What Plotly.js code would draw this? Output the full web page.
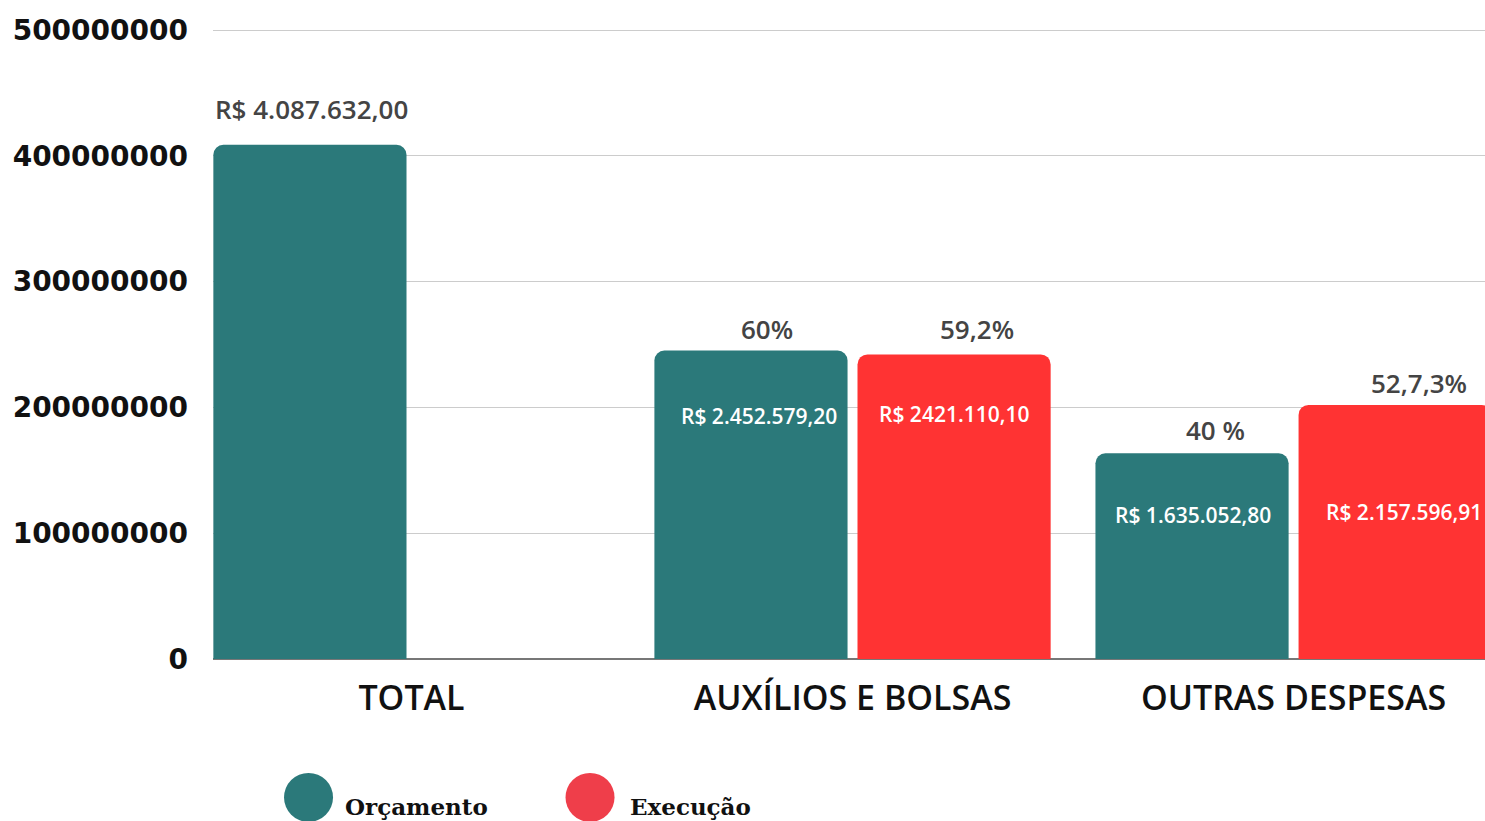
<!DOCTYPE html>
<html>
<head>
<meta charset="utf-8">
<script src="https://cdn.plot.ly/plotly-3.0.1.min.js"></script>
<style>
html,body{margin:0;padding:0;background:#fff;}
#chart{width:1485px;height:821px;}
</style>
</head>
<body>
<div id="chart"></div>
<script>
// ---- data ----
const categories = ["TOTAL", "AUXÍLIOS E BOLSAS", "OUTRAS DESPESAS"];
const orcamento = [408763200, 245257920, 163505280];
const execucao = [null, 242111010, 202000000];
const orcamentoTop = ["R$ 4.087.632,00", "60%", "40 %"];
const execucaoTop = [null, "59,2%", "52,7,3%"];
const orcamentoInside = [null, "R$ 2.452.579,20", "R$ 1.635.052,80"];
const execucaoInside = [null, "R$ 2421.110,10", "R$ 2.157.596,91"];
const yTicks = [0, 100000000, 200000000, 300000000, 400000000, 500000000];
const seriesNames = ["Orçamento", "Execução"];

// ---- style ----
const teal = "#2b797a";
const red = "#ff3333";
const legendRed = "#ef3e4a";
const bargap = 0.079;
const slot = (1 - bargap) / 2;

const traces = [
  {type: "bar", name: seriesNames[0], x: categories, y: orcamento,
   marker: {color: teal, cornerradius: 10}, hoverinfo: "y"},
  {type: "bar", name: seriesNames[1], x: categories, y: execucao,
   marker: {color: red, cornerradius: 10}, hoverinfo: "y"}
];

const annotations = [];
const topFont = {family: "Open Sans", size: 26, color: "#444444", weight: 600};
const inFont = {family: "Open Sans", size: 21, color: "#ffffff", weight: 600};
const topShift = [[36, 21, 23], [0, 25, 22]];
const topX = [[2, 16, 23], [0, 23, 24]];
const inShift = [[0, -66, -62], [0, -60, -107]];
const inX = [[0, 8, 1], [0, 0, 9]];
[[orcamento, orcamentoTop, orcamentoInside, -1], [execucao, execucaoTop, execucaoInside, 1]].forEach((s, si) => {
  const [vals, tops, ins, sign] = s;
  vals.forEach((v, i) => {
    if (v === null) return;
    const xc = i + sign * slot / 2;
    if (tops[i]) annotations.push({x: xc, y: v, xref: "x", yref: "y", text: tops[i], showarrow: false,
      font: topFont, yshift: topShift[si][i], xshift: topX[si][i]});
    if (ins[i]) annotations.push({x: xc, y: v, xref: "x", yref: "y", text: ins[i], showarrow: false,
      font: inFont, yshift: inShift[si][i], xshift: inX[si][i]});
  });
});

// legend (custom)
const legFont = {family: "DejaVu Serif", size: 23, color: "#111111", weight: 700};
annotations.push({xref: "paper", yref: "paper", x: 0.1022, y: -0.234, xanchor: "left", yanchor: "middle",
  text: seriesNames[0], showarrow: false, font: legFont});
annotations.push({xref: "paper", yref: "paper", x: 0.3263, y: -0.234, xanchor: "left", yanchor: "middle",
  text: seriesNames[1], showarrow: false, font: legFont});
const shapes = [
  {type: "circle", xref: "paper", yref: "paper", xsizemode: "pixel", ysizemode: "pixel",
   xanchor: 0.0751, yanchor: -0.2194, x0: -24.5, x1: 24.5, y0: -24.5, y1: 24.5,
   fillcolor: teal, line: {width: 0}},
  {type: "circle", xref: "paper", yref: "paper", xsizemode: "pixel", ysizemode: "pixel",
   xanchor: 0.2964, yanchor: -0.2194, x0: -24.5, x1: 24.5, y0: -24.5, y1: 24.5,
   fillcolor: legendRed, line: {width: 0}}
];

const layout = {
  width: 1485, height: 821,
  margin: {l: 213, r: 0, t: 28, b: 162},
  paper_bgcolor: "#ffffff", plot_bgcolor: "#ffffff",
  barmode: "group", bargap: bargap, bargroupgap: 0.049,
  showlegend: false,
  xaxis: {
    type: "category", range: [-0.45, 2.434], showgrid: false, zeroline: false,
    showline: false, ticks: "", ticklabelstandoff: 16,
    tickfont: {family: "Open Sans", size: 34, color: "#111111", weight: 600}
  },
  yaxis: {
    range: [0, 501600000], tickvals: yTicks, ticktext: yTicks.map(String),
    showgrid: true, gridcolor: "#cccccc", gridwidth: 1,
    zeroline: true, zerolinecolor: "#777777", zerolinewidth: 1.5,
    showline: false, ticks: "", ticklabelstandoff: 24,
    tickfont: {family: "DejaVu Sans", size: 28, color: "#111111", weight: 700}
  },
  annotations: annotations,
  shapes: shapes
};

Plotly.newPlot("chart", traces, layout, {displayModeBar: false, staticPlot: true});
</script>
</body>
</html>
